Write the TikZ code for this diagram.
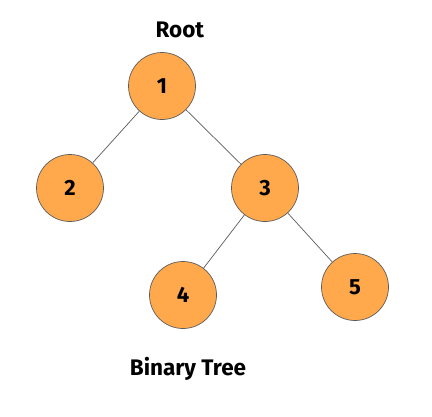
\documentclass[tikz,border=0pt]{standalone}
\usepackage{fontspec}
\setmainfont{Fira Sans}
\usepackage{tikz}
\definecolor{nodeorange}{HTML}{FFA94C}
\definecolor{edgegray}{HTML}{5A5A5A}
\newcommand{\nl}[1]{\textbf{#1}}

\begin{document}
\begin{tikzpicture}
  [x=1pt,y=-1pt,
   tnode/.style={circle,draw=edgegray,line width=.7pt,fill=nodeorange,
     minimum size=67pt,inner sep=0pt,font=\fontsize{22}{26}\selectfont},
   lbl/.style={font=\fontsize{22.5}{26}\selectfont}]
  \useasboundingbox (0,0) rectangle (432,416);
  \node[lbl] (root) at (180,30) {\nl{Root}};
  \node[tnode] (n1) at (162,86)  {\nl{1}};
  \node[tnode] (n2) at (70,188)  {\nl{2}};
  \node[tnode] (n3) at (265,188) {\nl{3}};
  \node[tnode] (n4) at (183,295) {\nl{4}};
  \node[tnode] (n5) at (355,287) {\nl{5}};
  \node[lbl] (title) at (188,369) {\nl{Binary Tree}};

  \foreach \from/\to in {n1/n2,n1/n3,n3/n4,n3/n5}
    \draw[edgegray,line width=.7pt] (\from) -- (\to);
\end{tikzpicture}
\end{document}
